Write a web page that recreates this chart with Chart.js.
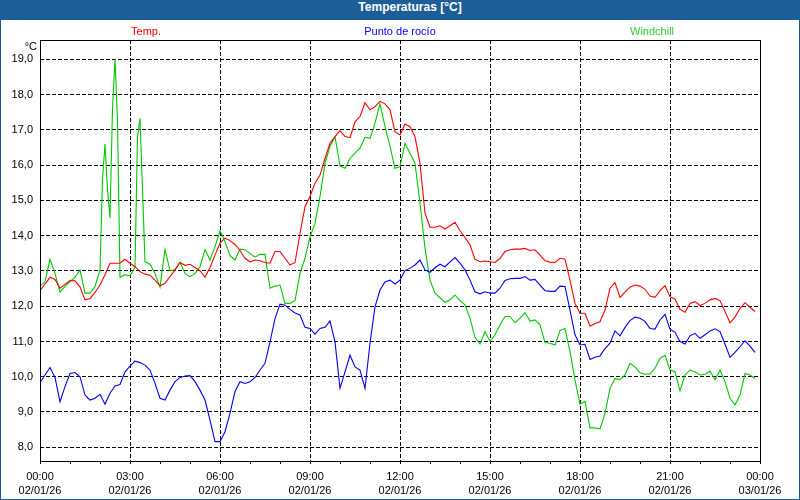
<!DOCTYPE html>
<html>
<head>
<meta charset="utf-8">
<script src="https://cdn.jsdelivr.net/npm/chart.js@4.4.1/dist/chart.umd.min.js"></script>
<style>
  html, body { margin: 0; padding: 0; background: #ffffff; }
  #frame { position: relative; width: 800px; height: 500px; box-sizing: border-box;
           border: 1px solid #1d5e98; border-top: none; background: #ffffff; overflow: hidden; }
  #title { height: 20px; line-height: 20px; background: #1d5e98; color: #ffffff;
           font: bold 12px "Liberation Sans", Arial, sans-serif; text-align: center;
           padding-left: 20px; box-sizing: border-box; }
  #wrap { position: relative; width: 798px; height: 479px; }
</style>
</head>
<body>
<div id="frame">
  <div id="title">Temperaturas [°C]</div>
  <div id="wrap"><canvas id="c"></canvas></div>
</div>
<script>
// ---- DATA ----
const times = [0,10,20,30,40,50,60,70,80,90,100,110,120,125,130,135,140,145,150,155,160,170,180,190,195,200,205,210,
  220,230,240,250,260,270,280,290,300,310,320,330,340,350,360,
  370,380,390,400,410,420,430,440,450,460,470,480,490,500,510,520,530,540,550,560,570,580,590,600,
  610,620,630,640,650,660,670,680,690,700,710,720,
  730,740,750,760,770,780,790,800,810,820,830,840,850,860,870,880,890,900,910,920,930,940,950,960,
  970,980,990,1000,1010,1020,1030,1040,1050,1060,1070,1080,
  1090,1100,1110,1120,1130,1140,1150,1160,1170,1180,1190,1200,1210,1220,1230,1240,1250,1260,1270,1280,
  1290,1300,1310,1320,1330,1340,1350,1360,1370,1380,1390,1400,1410,1420,1430];

const temp = [12.44,12.63,12.82,12.76,12.51,12.62,12.73,12.72,12.55,12.18,12.22,12.39,12.60,null,12.89,null,13.22,null,13.22,null,13.22,13.33,13.22,13.12,null,12.98,null,12.91,
  12.88,12.74,12.58,12.65,12.84,13.03,13.24,13.16,13.19,13.10,13.01,12.82,13.10,13.45,13.79,
  13.93,13.86,13.75,13.58,13.36,13.26,13.31,13.29,13.24,13.22,13.55,13.55,13.36,13.17,13.24,14.07,14.82,15.11,15.49,15.72,16.19,16.62,16.81,16.98,
  16.81,16.78,17.23,17.38,17.77,17.57,17.66,17.81,17.74,17.57,16.95,16.86,
  17.17,17.09,16.81,16.05,14.64,14.24,14.24,14.28,14.19,14.28,14.38,14.14,13.95,13.74,13.33,13.26,13.28,13.26,13.24,13.36,13.55,13.60,13.62,13.62,
  13.64,13.58,13.60,13.45,13.29,13.25,13.24,13.36,13.33,12.74,12.08,11.80,
  11.80,11.43,11.51,11.56,11.89,12.51,12.67,12.25,12.40,12.54,12.60,12.57,12.48,12.29,12.25,12.44,12.58,12.27,12.20,11.91,
  11.83,12.08,12.13,12.02,12.08,12.18,12.22,12.16,11.85,11.53,11.69,11.94,12.10,11.97,11.85];

const dewPoint = [9.83,10.05,10.26,9.98,9.29,9.72,10.09,10.12,10.00,9.48,9.34,9.39,9.50,null,9.22,null,9.53,null,9.74,null,9.78,10.14,10.30,10.44,null,10.40,null,10.33,
  10.19,9.81,9.39,9.34,9.62,9.86,9.98,10.02,10.03,9.86,9.62,9.34,8.77,8.16,8.16,
  8.44,8.96,9.58,9.86,9.81,9.86,9.98,10.19,10.38,10.99,11.65,12.06,12.03,11.91,11.81,11.75,11.40,11.37,11.21,11.37,11.40,11.58,10.99,9.67,
  10.14,10.61,10.28,10.19,9.67,10.95,11.98,12.46,12.69,12.74,12.63,12.74,
  13.01,13.08,13.17,13.31,13.03,12.96,13.09,13.19,13.12,13.26,13.38,13.22,13.03,12.74,12.41,12.35,12.41,12.37,12.37,12.51,12.73,12.78,12.79,12.79,
  12.84,12.74,12.76,12.60,12.44,12.42,12.42,12.57,12.56,11.89,11.19,10.90,
  10.92,10.49,10.55,10.59,10.80,10.95,11.30,11.16,11.40,11.59,11.69,11.66,11.57,11.37,11.35,11.61,11.77,11.35,11.26,11.00,
  10.93,11.16,11.23,11.09,11.19,11.30,11.36,11.28,10.93,10.55,10.69,10.85,11.02,10.87,10.69];

const windchill = [12.56,12.70,13.33,12.93,12.40,12.56,12.70,12.82,13.03,12.37,12.37,12.56,13.03,15.6,16.6,15.3,14.5,17.6,19.0,17.3,12.82,12.89,12.86,13.1,16.8,17.33,15.3,13.26,
  13.19,12.93,12.54,13.61,13.01,13.03,13.24,12.93,12.84,12.93,13.12,13.61,13.31,13.69,14.14,
  13.83,13.43,13.31,13.62,13.60,13.50,13.39,13.47,13.47,12.51,12.57,12.60,12.08,12.08,12.16,12.93,13.36,13.97,14.35,15.11,16.05,16.54,16.81,15.98,
  15.91,16.19,16.34,16.48,16.79,16.76,17.19,17.74,17.09,16.53,15.91,15.96,
  16.62,16.34,16.05,14.92,13.64,12.74,12.37,12.24,12.11,12.18,12.32,12.16,12.04,11.66,11.11,10.93,11.28,11.00,11.19,11.47,11.71,11.71,11.53,11.66,
  11.82,11.58,11.61,11.47,10.97,10.95,10.90,11.31,11.37,10.71,9.91,9.22,
  9.30,8.55,8.55,8.52,8.96,9.67,9.95,9.92,10.05,10.38,10.28,10.11,10.07,10.08,10.24,10.52,10.61,10.19,10.14,9.60,
  10.05,10.19,10.14,10.05,10.07,10.16,9.92,10.19,9.86,9.39,9.20,9.48,10.09,10.05,9.95];

const seriesNames = ['Temp.', 'Punto de rocío', 'Windchill'];
const xTickTimes = ['00:00','03:00','06:00','09:00','12:00','15:00','18:00','21:00','00:00'];
const xTickDates = ['02/01/26','02/01/26','02/01/26','02/01/26','02/01/26','02/01/26','02/01/26','02/01/26','03/01/26'];
const yUnit = '°C';

// ---- CHART ----
const FONT = '"Liberation Sans", Arial, sans-serif';
const colors = ['#ff0000', '#0000ff', '#00c800'];
const legendColors = ['#ff0000', '#0000ff', '#33cc33'];

function pts(arr) { return times.map((t, i) => ({ x: t, y: arr[i] })); }

const framePlugin = {
  id: 'framePlugin',
  afterDraw(chart) {
    const { ctx, chartArea: a } = chart;
    ctx.save();
    ctx.strokeStyle = '#000';
    ctx.lineWidth = 1;
    ctx.strokeRect(Math.round(a.left) + 0.5, Math.round(a.top) + 0.5,
                   Math.round(a.right - a.left), Math.round(a.bottom - a.top));
    // unit label
    ctx.fillStyle = '#000';
    ctx.font = '11px ' + FONT;
    ctx.textAlign = 'right';
    ctx.textBaseline = 'middle';
    ctx.fillText(yUnit, a.left - 3, a.top + 7);
    // legend labels
    const w = chart.width;
    const xs = [w * 0.1817, w * 0.5, w * 0.8158];
    ctx.textAlign = 'center';
    chart.data.datasets.forEach((ds, i) => {
      ctx.fillStyle = legendColors[i];
      ctx.fillText(ds.label, xs[i], a.top - 8);
    });
    ctx.restore();
  }
};

new Chart(document.getElementById('c'), {
  type: 'line',
  data: {
    datasets: [
      { label: seriesNames[0], data: pts(temp), borderColor: colors[0] },
      { label: seriesNames[1], data: pts(dewPoint), borderColor: colors[1] },
      { label: seriesNames[2], data: pts(windchill), borderColor: colors[2] }
    ].map(d => Object.assign(d, { borderWidth: 1.1, pointRadius: 0, tension: 0, spanGaps: true, fill: false }))
  },
  options: {
    responsive: true,
    maintainAspectRatio: false,
    animation: false,
    events: [],
    layout: { padding: { left: 0, right: 39, top: 20, bottom: 0 } },
    plugins: { legend: { display: false }, title: { display: false }, tooltip: { enabled: false } },
    scales: {
      x: {
        type: 'linear', min: 0, max: 1440,
        afterFit(s) { s.height = 38; },
        ticks: {
          stepSize: 60, autoSkip: false, maxRotation: 0, padding: 5,
          color: '#000', font: { family: FONT, size: 11, lineHeight: 1.36 },
          callback(v) { if (v % 180 !== 0) return ''; const k = v / 180; return [xTickTimes[k], xTickDates[k]]; }
        },
        grid: {
          drawTicks: true, tickLength: 3, tickColor: '#000', lineWidth: 1,
          color(c) { const v = c.tick ? c.tick.value : 0; return (v % 180 === 0 && v !== 0 && v !== 1440) ? '#000' : 'rgba(0,0,0,0)'; }
        },
        border: { display: false, dash: [4, 2] }
      },
      y: {
        type: 'linear', min: 7.61, max: 19.55,
        afterFit(s) { s.width = 39; },
        ticks: {
          stepSize: 1, includeBounds: false, padding: 7, color: '#000',
          font: { family: FONT, size: 11 },
          callback(v) { return v.toFixed(1).replace('.', ','); }
        },
        grid: { drawTicks: false, color: '#000', lineWidth: 1 },
        border: { display: false, dash: [4, 2] }
      }
    }
  },
  plugins: [framePlugin]
});
</script>
</body>
</html>
